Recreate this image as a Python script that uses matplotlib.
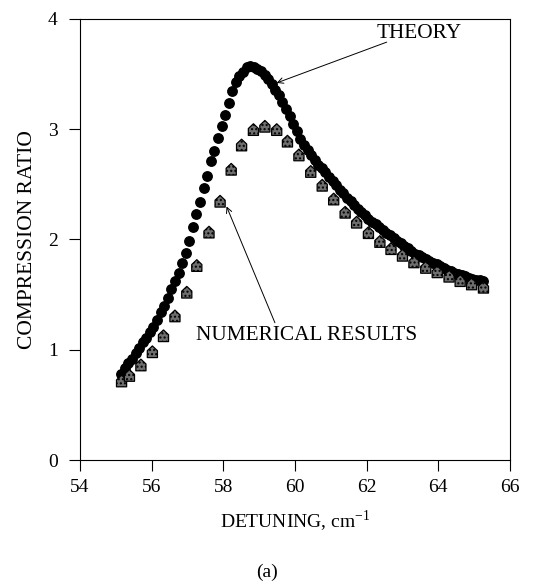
import numpy as np
import matplotlib
matplotlib.use("Agg")
import matplotlib.pyplot as plt
from matplotlib.path import Path

plt.rcParams['font.family'] = ['Liberation Serif', 'DejaVu Serif']
plt.rcParams['mathtext.fontset'] = 'custom'
plt.rcParams['mathtext.rm'] = 'Liberation Serif'

# theory curve (circles)
theory_x = [55.15, 55.25, 55.35, 55.45, 55.55, 55.65, 55.75, 55.85, 55.95, 56.05,
            56.15, 56.25, 56.35, 56.45, 56.55, 56.65, 56.75, 56.85, 56.95, 57.05,
            57.15, 57.25, 57.35, 57.45, 57.55, 57.65, 57.75, 57.85, 57.95, 58.05,
            58.15, 58.25, 58.35, 58.45, 58.55, 58.65, 58.75, 58.85, 58.95, 59.05,
            59.15, 59.25, 59.35, 59.45, 59.55, 59.65, 59.75, 59.85, 59.95, 60.05,
            60.15, 60.25, 60.35, 60.45, 60.55, 60.65, 60.75, 60.85, 60.95, 61.05,
            61.15, 61.25, 61.35, 61.45, 61.55, 61.65, 61.75, 61.85, 61.95, 62.05,
            62.15, 62.25, 62.35, 62.45, 62.55, 62.65, 62.75, 62.85, 62.95, 63.05,
            63.15, 63.25, 63.35, 63.45, 63.55, 63.65, 63.75, 63.85, 63.95, 64.05,
            64.15, 64.25, 64.35, 64.45, 64.55, 64.65, 64.75, 64.85, 64.95, 65.05,
            65.15, 65.25]
theory_y = [0.78, 0.83, 0.88, 0.92, 0.97, 1.02, 1.07, 1.11, 1.16, 1.21,
            1.27, 1.34, 1.40, 1.47, 1.55, 1.62, 1.70, 1.79, 1.88, 1.99,
            2.11, 2.23, 2.34, 2.47, 2.58, 2.71, 2.80, 2.92, 3.03, 3.13,
            3.24, 3.35, 3.43, 3.48, 3.52, 3.56, 3.57, 3.565, 3.55, 3.525,
            3.49, 3.455, 3.41, 3.36, 3.31, 3.25, 3.18, 3.12, 3.05, 2.98,
            2.91, 2.86, 2.81, 2.77, 2.72, 2.68, 2.645, 2.61, 2.57, 2.53,
            2.49, 2.45, 2.42, 2.38, 2.35, 2.31, 2.28, 2.25, 2.22, 2.19,
            2.16, 2.14, 2.11, 2.09, 2.06, 2.04, 2.01, 1.99, 1.97, 1.94,
            1.92, 1.90, 1.87, 1.855, 1.84, 1.82, 1.805, 1.79, 1.775, 1.76,
            1.74, 1.725, 1.71, 1.70, 1.685, 1.675, 1.665, 1.655, 1.645, 1.635,
            1.63, 1.62]

# numerical results (house markers)
num_x = [55.16, 55.38, 55.70, 56.02, 56.33, 56.65, 56.98, 57.26, 57.60, 57.91,
         58.22, 58.51, 58.84, 59.16, 59.49, 59.79, 60.11, 60.44, 60.76, 61.08,
         61.40, 61.72, 62.05, 62.37, 62.68, 63.00, 63.32, 63.65, 63.97, 64.30,
         64.61, 64.93, 65.26]
num_y = [0.71, 0.76, 0.855, 0.975, 1.12, 1.30, 1.515, 1.757, 2.06, 2.34,
         2.63, 2.85, 2.99, 3.02, 2.99, 2.885, 2.76, 2.61, 2.485, 2.36,
         2.24, 2.15, 2.055, 1.975, 1.91, 1.85, 1.79, 1.74, 1.70, 1.66,
         1.62, 1.59, 1.56]

x_ticks = [54, 56, 58, 60, 62, 64, 66]
y_ticks = [0, 1, 2, 3, 4]

house = Path([(-1, -1), (1, -1), (1, 0.35), (0, 1.3), (-1, 0.35), (-1, -1)],
             [Path.MOVETO, Path.LINETO, Path.LINETO, Path.LINETO, Path.LINETO, Path.CLOSEPOLY])

fig = plt.figure(figsize=(5.34, 5.82), dpi=100)
ax = fig.add_axes([0.1498, 0.2096, 0.8052, 0.7578])

ax.scatter(num_x, num_y, marker=house, s=90, facecolor='#6e6e6e',
           edgecolor='black', linewidth=0.9, hatch='....', zorder=3)
ax.plot(theory_x, theory_y, 'o', color='black', markersize=6.8, zorder=2)

ax.set_xlim(54, 66)
ax.set_ylim(0, 4)
ax.set_xticks(x_ticks)
ax.set_yticks(y_ticks)
ax.tick_params(direction='out', length=8, width=0.8, labelsize=14, pad=6,
               top=False, right=False)
ax.tick_params(axis='y', pad=8)
for s in ax.spines.values():
    s.set_linewidth(0.8)

ax.set_xlabel(r'DETUNING, cm$^{\mathregular{-1}}$', fontsize=14, labelpad=9)
ax.set_ylabel('COMPRESSION RATIO', fontsize=15.5, labelpad=8)

ax.annotate('', xy=(59.49, 3.42), xytext=(62.56, 3.79),
            arrowprops=dict(arrowstyle='->', lw=0.7, color='black', shrinkA=0, shrinkB=0))
ax.text(62.29, 3.87, 'THEORY', fontsize=15.3, ha='left', va='center')
ax.annotate('', xy=(58.09, 2.30), xytext=(59.44, 1.245),
            arrowprops=dict(arrowstyle='->', lw=0.7, color='black', shrinkA=0, shrinkB=0))
ax.text(60.33, 1.127, 'NUMERICAL RESULTS', fontsize=15.3, ha='center', va='center')

fig.text(0.5, 1 - 572 / 582, '(a)', fontsize=14, ha='center', va='center')

fig.savefig('out.png', dpi=100)
